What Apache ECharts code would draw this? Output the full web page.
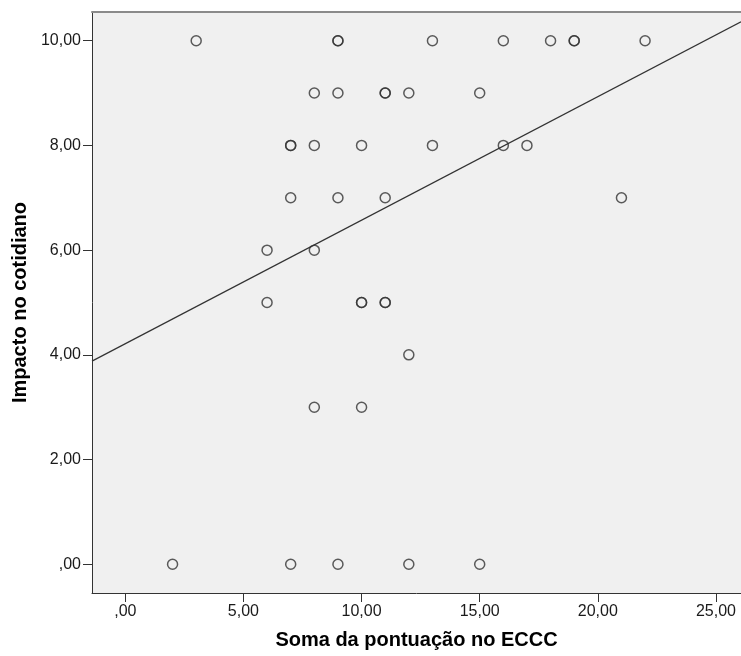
<!DOCTYPE html>
<html><head><meta charset="utf-8">
<script src="https://cdn.jsdelivr.net/npm/echarts@6/dist/echarts.min.js"></script>
<style>html,body{margin:0;padding:0;background:#fff}#c{width:741px;height:656px}</style>
</head><body><div id="c"></div>
<script>
// Data (x = Soma da pontuação no ECCC, y = Impacto no cotidiano)
const xValues = [3, 9, 9, 13, 16, 18, 19, 19, 22,
                 8, 9, 11, 11, 12, 15,
                 7, 7, 8, 10, 13, 16, 17,
                 7, 9, 11, 21,
                 6, 8,
                 6, 10, 10, 11, 11,
                 12,
                 8, 10,
                 2, 7, 9, 12, 15];
const yValues = [10, 10, 10, 10, 10, 10, 10, 10, 10,
                 9, 9, 9, 9, 9, 9,
                 8, 8, 8, 8, 8, 8, 8,
                 7, 7, 7, 7,
                 6, 6,
                 5, 5, 5, 5, 5,
                 4,
                 3, 3,
                 0, 0, 0, 0, 0];
// Fit line endpoints
const fitX = [-1.41, 26.06];
const fitY = [3.88, 10.36];
const xTicks = [0, 5, 10, 15, 20, 25];
const yTicks = [0, 2, 4, 6, 8, 10];
const xTitle = 'Soma da pontuação no ECCC';
const yTitle = 'Impacto no cotidiano';

function fmt(v) {
  let s = Number(v).toFixed(2).replace('.', ',');
  if (s.startsWith('0,')) s = s.slice(1);
  return s;
}
const pts = xValues.map((x, i) => [x, yValues[i]]);
const fit = fitX.map((x, i) => [x, fitY[i]]);
const FONT = '"Liberation Sans", Arial, sans-serif';

const chart = echarts.init(document.getElementById('c'), null, {renderer: 'canvas'});
chart.setOption({
  animation: false,
  backgroundColor: '#ffffff',
  grid: {left: 92, right: 0, top: 12, bottom: 63, show: true, backgroundColor: '#f0f0f0', borderWidth: 0},
  xAxis: [{
    type: 'value', position: 'bottom', min: -1.41, max: 26.06,
    name: xTitle, nameLocation: 'middle', nameGap: 37,
    nameTextStyle: {fontFamily: FONT, fontWeight: 'bold', fontSize: 20, color: '#000'},
    axisLine: {show: true, onZero: false, lineStyle: {color: '#333', width: 1}},
    axisTick: {show: true, length: 9, customValues: xTicks, lineStyle: {color: '#333'}},
    axisLabel: {customValues: xTicks, formatter: fmt, fontFamily: FONT, fontSize: 16, color: '#1a1a1a', margin: 11},
    splitLine: {show: false}
  }, {
    type: 'value', position: 'top', min: -1.41, max: 26.06,
    axisLine: {show: true, onZero: false, lineStyle: {color: '#8a8a8a', width: 2}},
    axisTick: {show: false}, axisLabel: {show: false}, splitLine: {show: false}
  }],
  yAxis: {
    type: 'value', min: -0.548, max: 10.548,
    name: yTitle, nameLocation: 'middle', nameGap: 62, nameRotate: 90,
    nameTextStyle: {fontFamily: FONT, fontWeight: 'bold', fontSize: 20, color: '#000'},
    axisLine: {show: true, onZero: false, lineStyle: {color: '#333', width: 1}},
    axisTick: {show: true, length: 9, customValues: yTicks, lineStyle: {color: '#333'}},
    axisLabel: {customValues: yTicks, formatter: fmt, fontFamily: FONT, fontSize: 16, color: '#1a1a1a', margin: 11},
    splitLine: {show: false}
  },
  series: [{
    type: 'line', data: fit, showSymbol: false, symbol: 'none',
    lineStyle: {color: '#333', width: 1.2}, clip: true, silent: true, z: 2
  }, {
    type: 'scatter', data: pts, symbol: 'circle', symbolSize: 10,
    itemStyle: {color: 'rgba(0,0,0,0)', borderColor: '#333', borderWidth: 1.5},
    z: 3
  }]
});
</script></body></html>
